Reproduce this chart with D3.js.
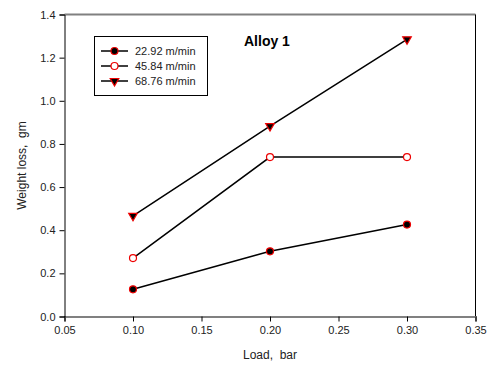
<!DOCTYPE html>
<html><head><meta charset="utf-8">
<script src="https://cdn.jsdelivr.net/npm/d3@7"></script>
<style>body{margin:0;background:#fff}svg{display:block}text{font-family:"Liberation Sans",Arial,sans-serif;white-space:pre}</style>
</head><body>
<script>
const loads = [0.10, 0.20, 0.30];
const seriesNames = ["22.92 m/min", "45.84 m/min", "68.76 m/min"];
const s1 = [0.126, 0.302, 0.426];
const s2 = [0.271, 0.739, 0.739];
const s3 = [0.467, 0.883, 1.285];
const xTicks = [0.05, 0.10, 0.15, 0.20, 0.25, 0.30, 0.35];
const yTicks = [0.0, 0.2, 0.4, 0.6, 0.8, 1.0, 1.2, 1.4];

const W = 492, H = 366;
const svg = d3.select("body").append("svg").attr("width", W).attr("height", H);
const L = 64.5, R = 475.5, T = 14.5, B = 316.5;
const x = d3.scaleLinear().domain([0.05, 0.35]).range([L, R]);
const y = d3.scaleLinear().domain([0, 1.4]).range([B, T]);

// frame
svg.append("line").attr("x1", L).attr("x2", R).attr("y1", T).attr("y2", T).attr("stroke", "#808080").attr("stroke-width", 2);
svg.append("line").attr("x1", R).attr("x2", R).attr("y1", T).attr("y2", B).attr("stroke", "#000").attr("stroke-width", 1);

const xa = svg.append("g").attr("transform", `translate(0,${B})`)
  .call(d3.axisBottom(x).tickValues(xTicks).tickFormat(d3.format(".2f")).tickSizeOuter(0).tickSize(5).tickPadding(5));
xa.select(".domain").attr("stroke", "#808080").attr("stroke-width", 2);
xa.selectAll(".tick line").attr("stroke", "#000");
xa.selectAll("text").attr("font-size", 11).attr("fill", "#222").attr("font-family", "Liberation Sans, Arial, sans-serif");

const ya = svg.append("g").attr("transform", `translate(${L},0)`)
  .call(d3.axisLeft(y).tickValues(yTicks).tickFormat(d3.format(".1f")).tickSizeOuter(0).tickSize(5).tickPadding(4));
ya.select(".domain").attr("stroke", "#000");
ya.selectAll("text").attr("font-size", 11).attr("fill", "#222").attr("font-family", "Liberation Sans, Arial, sans-serif");

// labels
svg.append("text").attr("x", 270).attr("y", 359).attr("text-anchor", "middle").attr("font-size", 12).attr("fill", "#222").text("Load,  bar");
svg.append("text").attr("transform", `translate(26,${(T+B)/2}) rotate(-90)`).attr("text-anchor", "middle").attr("font-size", 12).attr("fill", "#222").text("Weight loss,  gm");
svg.append("text").attr("x", 244).attr("y", 46).attr("font-size", 14).attr("font-weight", "bold").attr("fill", "#000").text("Alloy 1");

const data = [s1, s2, s3];
const line = d3.line().x((d, i) => x(loads[i])).y(d => y(d));
const tri = d3.symbol().type(d3.symbolTriangle).size(32);

function marker(g, k, cx, cy) {
  if (k === 0) g.append("circle").attr("cx", cx).attr("cy", cy).attr("r", 3.5).attr("fill", "#000").attr("stroke", "#e00").attr("stroke-width", 1.2);
  else if (k === 1) g.append("circle").attr("cx", cx).attr("cy", cy).attr("r", 3.5).attr("fill", "#fff").attr("stroke", "#e00").attr("stroke-width", 1.2);
  else g.append("path").attr("d", tri).attr("transform", `translate(${cx},${cy}) rotate(180)`).attr("fill", "#000").attr("stroke", "#e00").attr("stroke-width", 1.2);
}

data.forEach((vals, k) => {
  svg.append("path").attr("d", line(vals)).attr("fill", "none").attr("stroke", "#000").attr("stroke-width", 1.5);
  const g = svg.append("g");
  vals.forEach((v, i) => marker(g, k, x(loads[i]), y(v)));
});

// legend
svg.append("rect").attr("x", 94.5).attr("y", 36.5).attr("width", 113).attr("height", 59).attr("fill", "#fff").attr("stroke", "#000").attr("stroke-width", 1);
seriesNames.forEach((n, k) => {
  const ly = 51 + k * 15;
  svg.append("line").attr("x1", 101).attr("x2", 128).attr("y1", ly).attr("y2", ly).attr("stroke", "#000").attr("stroke-width", 1.5);
  marker(svg.append("g"), k, 114.5, ly);
  svg.append("text").attr("x", 135).attr("y", ly + 4).attr("font-size", 11).attr("fill", "#222").text(n);
});
</script>
</body></html>
